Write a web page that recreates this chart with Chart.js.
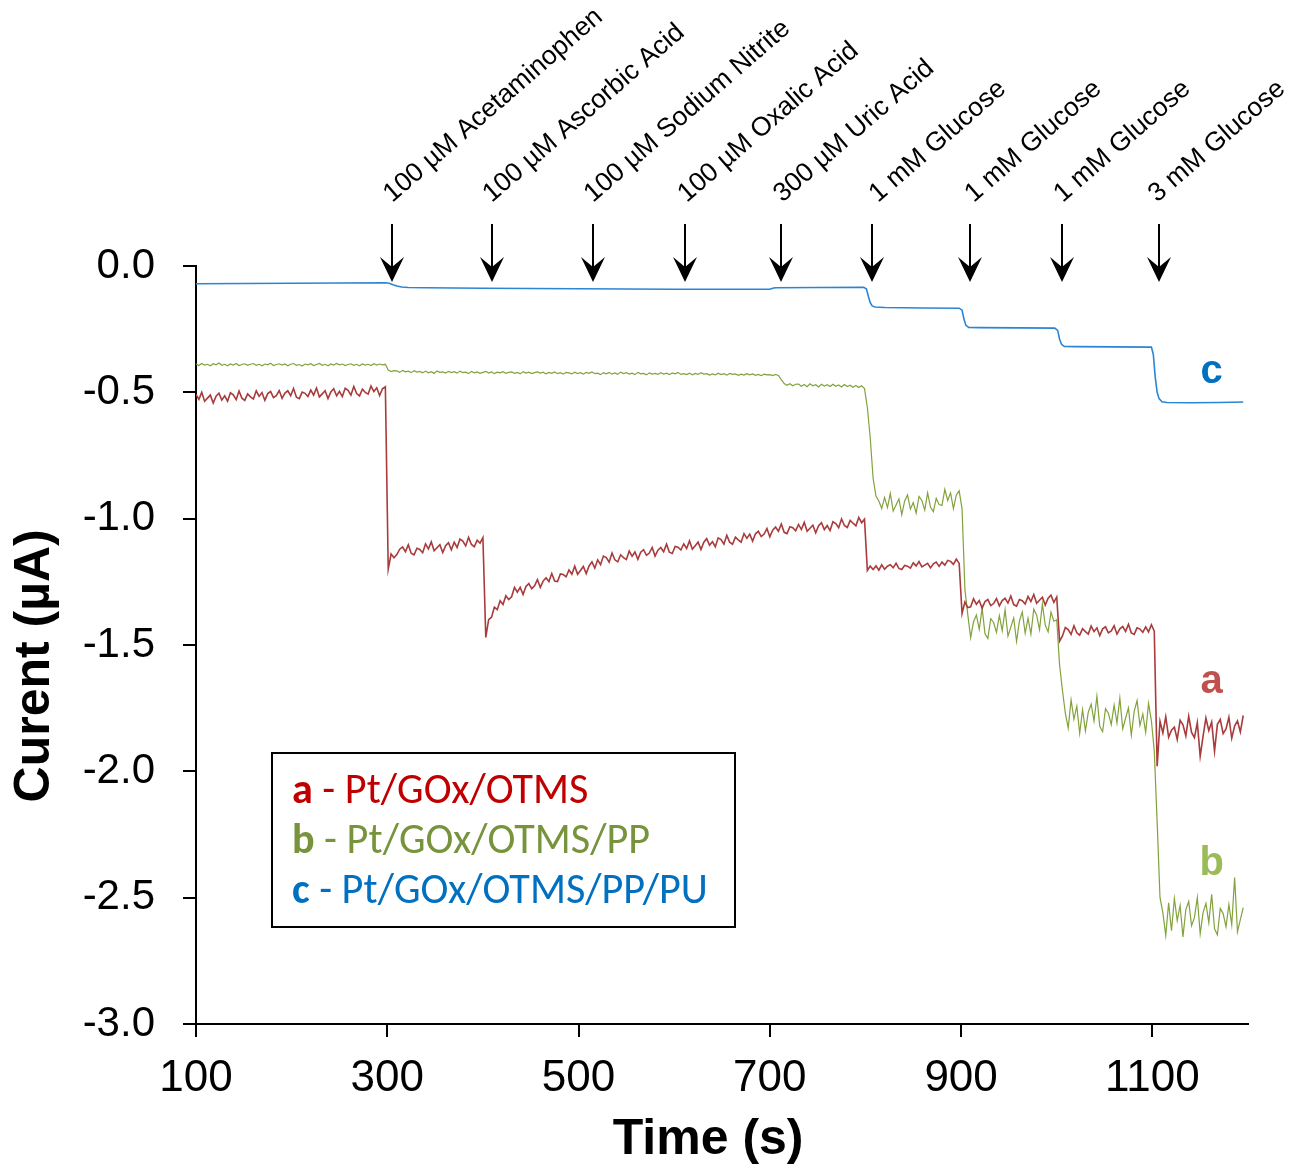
<!DOCTYPE html>
<html>
<head>
<meta charset="utf-8">
<script src="https://cdn.jsdelivr.net/npm/chart.js@4.4.1/dist/chart.umd.min.js"></script>
<style>
html,body{margin:0;padding:0;background:#ffffff;}
#wrap{width:1291px;height:1170px;position:relative;}
canvas{display:block;}
</style>
</head>
<body>
<div id="wrap"><canvas id="chart" width="1291" height="1170"></canvas></div>
<script>
// ---------------- DATA ----------------
const xTickValues = [100, 300, 500, 700, 900, 1100];
const yTickValues = [0, -0.5, -1.0, -1.5, -2.0, -2.5, -3.0];

const seriesTags = ['a', 'b', 'c'];
const seriesNames = ['Pt/GOx/OTMS', 'Pt/GOx/OTMS/PP', 'Pt/GOx/OTMS/PP/PU'];

const eventLabels = ['100 \u00b5M Acetaminophen', '100 \u00b5M Ascorbic Acid', '100 \u00b5M Sodium Nitrite',
  '100 \u00b5M Oxalic Acid', '300 \u00b5M Uric Acid', '1 mM Glucose', '1 mM Glucose', '1 mM Glucose', '3 mM Glucose'];
const arrowTimes = [305, 409, 515, 611, 712, 807, 909, 1006, 1107];
const labelTimes = [300, 404, 510, 608, 708, 808, 908, 1001, 1100];

// traces a and b: sampled every 3 s starting at 100 s (current in µA)
const sampleStart = 100, sampleStep = 3;
const currentA = [
  -0.508,-0.528,-0.500,-0.535,-0.523,-0.511,-0.542,-0.515,-0.503,-0.531,
  -0.514,-0.535,-0.502,-0.510,-0.529,-0.495,-0.523,-0.532,-0.506,-0.518,
  -0.526,-0.494,-0.516,-0.501,-0.532,-0.505,-0.497,-0.521,-0.513,-0.493,
  -0.524,-0.503,-0.494,-0.513,-0.485,-0.519,-0.525,-0.499,-0.504,-0.517,
  -0.491,-0.511,-0.483,-0.518,-0.506,-0.494,-0.525,-0.498,-0.486,-0.514,
  -0.496,-0.517,-0.484,-0.492,-0.511,-0.477,-0.505,-0.514,-0.488,-0.500,
  -0.507,-0.475,-0.497,-0.482,-0.513,-0.486,-0.478,-1.200,-1.140,-1.155,
  -1.142,-1.121,-1.112,-1.131,-1.103,-1.137,-1.143,-1.117,-1.122,-1.135,
  -1.100,-1.120,-1.092,-1.127,-1.115,-1.103,-1.134,-1.107,-1.095,-1.123,
  -1.093,-1.114,-1.081,-1.089,-1.108,-1.074,-1.102,-1.111,-1.085,-1.097,
  -1.075,-1.470,-1.400,-1.390,-1.350,-1.360,-1.325,-1.340,-1.305,-1.320,
  -1.309,-1.272,-1.291,-1.272,-1.300,-1.268,-1.257,-1.277,-1.266,-1.241,
  -1.272,-1.247,-1.234,-1.249,-1.217,-1.247,-1.249,-1.219,-1.221,-1.230,
  -1.203,-1.220,-1.188,-1.220,-1.205,-1.189,-1.217,-1.187,-1.171,-1.196,
  -1.163,-1.182,-1.148,-1.154,-1.172,-1.136,-1.163,-1.171,-1.143,-1.154,
  -1.162,-1.128,-1.149,-1.132,-1.161,-1.133,-1.123,-1.145,-1.136,-1.114,
  -1.148,-1.125,-1.114,-1.131,-1.101,-1.133,-1.138,-1.110,-1.113,-1.124,
  -1.100,-1.118,-1.088,-1.121,-1.107,-1.093,-1.122,-1.093,-1.079,-1.105,
  -1.091,-1.111,-1.076,-1.083,-1.101,-1.066,-1.093,-1.101,-1.073,-1.084,
  -1.093,-1.059,-1.078,-1.061,-1.089,-1.060,-1.050,-1.071,-1.061,-1.039,
  -1.072,-1.046,-1.033,-1.050,-1.021,-1.054,-1.059,-1.032,-1.036,-1.048,
  -1.023,-1.043,-1.015,-1.050,-1.038,-1.026,-1.056,-1.028,-1.016,-1.043,
  -1.027,-1.047,-1.012,-1.019,-1.036,-1.001,-1.027,-1.035,-1.007,-1.018,
  -1.028,-0.995,-1.016,-1.002,-1.205,-1.188,-1.201,-1.187,-1.204,-1.183,
  -1.200,-1.188,-1.182,-1.194,-1.177,-1.197,-1.201,-1.185,-1.188,-1.196,
  -1.175,-1.187,-1.170,-1.191,-1.184,-1.177,-1.195,-1.179,-1.172,-1.189,
  -1.172,-1.184,-1.165,-1.169,-1.181,-1.160,-1.177,-1.375,-1.330,-1.352,
  -1.349,-1.317,-1.339,-1.324,-1.355,-1.328,-1.320,-1.344,-1.336,-1.316,
  -1.345,-1.324,-1.315,-1.334,-1.306,-1.340,-1.346,-1.320,-1.325,-1.338,
  -1.308,-1.328,-1.300,-1.335,-1.323,-1.311,-1.342,-1.315,-1.303,-1.331,
  -1.310,-1.485,-1.464,-1.431,-1.439,-1.458,-1.424,-1.452,-1.461,-1.435,
  -1.447,-1.457,-1.425,-1.447,-1.432,-1.463,-1.436,-1.428,-1.452,-1.444,
  -1.424,-1.457,-1.436,-1.427,-1.446,-1.418,-1.452,-1.458,-1.432,-1.437,
  -1.450,-1.428,-1.448,-1.420,-1.445,-1.980,-1.802,-1.848,-1.784,-1.865,
  -1.837,-1.825,-1.874,-1.798,-1.816,-1.860,-1.782,-1.846,-1.867,-1.807,
  -1.940,-1.862,-1.789,-1.839,-1.805,-1.920,-1.814,-1.795,-1.851,-1.832,
  -1.786,-1.869,-1.821,-1.800,-1.844,-1.779
];
const currentB = [
  -0.388,-0.394,-0.386,-0.392,-0.389,-0.395,-0.387,-0.391,-0.384,-0.393,
  -0.389,-0.395,-0.388,-0.392,-0.386,-0.394,-0.390,-0.387,-0.393,-0.389,
  -0.386,-0.393,-0.389,-0.395,-0.388,-0.391,-0.385,-0.394,-0.390,-0.387,
  -0.392,-0.388,-0.395,-0.389,-0.386,-0.393,-0.390,-0.396,-0.388,-0.391,
  -0.387,-0.394,-0.390,-0.386,-0.393,-0.389,-0.395,-0.388,-0.392,-0.386,
  -0.391,-0.388,-0.394,-0.390,-0.387,-0.393,-0.389,-0.395,-0.388,-0.392,
  -0.389,-0.394,-0.387,-0.392,-0.388,-0.391,-0.389,-0.412,-0.418,-0.414,
  -0.415,-0.421,-0.413,-0.419,-0.416,-0.422,-0.414,-0.420,-0.417,-0.423,
  -0.416,-0.423,-0.418,-0.425,-0.415,-0.421,-0.419,-0.424,-0.417,-0.422,
  -0.418,-0.424,-0.416,-0.422,-0.420,-0.426,-0.417,-0.423,-0.419,-0.425,
  -0.421,-0.417,-0.424,-0.419,-0.426,-0.420,-0.423,-0.418,-0.425,-0.421,
  -0.419,-0.425,-0.421,-0.427,-0.418,-0.424,-0.420,-0.426,-0.422,-0.419,
  -0.424,-0.420,-0.427,-0.421,-0.425,-0.419,-0.426,-0.422,-0.428,-0.421,
  -0.423,-0.427,-0.420,-0.426,-0.422,-0.428,-0.421,-0.425,-0.419,-0.426,
  -0.424,-0.430,-0.422,-0.427,-0.421,-0.428,-0.423,-0.429,-0.420,-0.426,
  -0.422,-0.428,-0.424,-0.430,-0.421,-0.427,-0.425,-0.431,-0.423,-0.428,
  -0.425,-0.429,-0.422,-0.428,-0.424,-0.430,-0.423,-0.427,-0.421,-0.429,
  -0.426,-0.430,-0.424,-0.431,-0.425,-0.429,-0.422,-0.428,-0.426,-0.432,
  -0.427,-0.431,-0.424,-0.430,-0.426,-0.432,-0.425,-0.429,-0.427,-0.433,
  -0.428,-0.432,-0.426,-0.431,-0.427,-0.433,-0.429,-0.434,-0.428,-0.431,
  -0.430,-0.434,-0.429,-0.433,-0.450,-0.465,-0.472,-0.466,-0.474,-0.468,
  -0.467,-0.476,-0.469,-0.478,-0.466,-0.474,-0.470,-0.479,-0.468,-0.475,
  -0.470,-0.477,-0.468,-0.476,-0.471,-0.479,-0.469,-0.477,-0.472,-0.480,
  -0.473,-0.481,-0.474,-0.485,-0.560,-0.680,-0.840,-0.910,-0.930,-0.960,
  -0.916,-0.956,-0.900,-0.970,-0.946,-0.922,-0.984,-0.930,-0.906,-0.962,
  -0.936,-0.978,-0.912,-0.928,-0.966,-0.898,-0.954,-0.972,-0.920,-0.944,
  -0.948,-0.884,-0.928,-0.898,-0.960,-0.906,-0.890,-0.960,-1.280,-1.380,
  -1.471,-1.408,-1.381,-1.438,-1.354,-1.456,-1.474,-1.396,-1.411,-1.450,
  -1.384,-1.444,-1.360,-1.465,-1.429,-1.393,-1.486,-1.405,-1.369,-1.453,
  -1.394,-1.457,-1.358,-1.382,-1.439,-1.337,-1.421,-1.448,-1.370,-1.406,
  -1.400,-1.580,-1.680,-1.770,-1.829,-1.717,-1.794,-1.742,-1.850,-1.756,
  -1.840,-1.766,-1.734,-1.801,-1.703,-1.822,-1.843,-1.752,-1.770,-1.815,
  -1.738,-1.808,-1.710,-1.832,-1.790,-1.749,-1.857,-1.763,-1.720,-1.818,
  -1.773,-1.846,-1.731,-1.800,-1.920,-2.200,-2.500,-2.560,-2.650,-2.520,
  -2.631,-2.503,-2.591,-2.531,-2.655,-2.547,-2.515,-2.611,-2.579,-2.499,
  -2.643,-2.559,-2.523,-2.599,-2.487,-2.623,-2.647,-2.543,-2.563,-2.615,
  -2.527,-2.607,-2.420,-2.635,-2.587,-2.539
];

// trace c: smooth, explicit time / current pairs
const timeC = [100,150,200,250,298,302,306,310,315,322,340,400,450,500,550,600,650,700,703,706,750,798,
  801,803,805,807,810,820,860,898,901,903,905,908,920,960,998,1001,1003,1005,1008,1020,1060,1099,
  1101,1103,1105,1107,1110,1115,1140,1170,1195];
const currentC = [-0.070,-0.069,-0.068,-0.067,-0.066,-0.068,-0.074,-0.079,-0.083,-0.085,-0.086,-0.088,-0.089,-0.090,-0.091,-0.092,-0.092,-0.092,-0.088,-0.086,-0.085,-0.084,
  -0.090,-0.120,-0.145,-0.158,-0.162,-0.164,-0.166,-0.167,-0.175,-0.210,-0.235,-0.243,-0.244,-0.245,-0.246,-0.255,-0.290,-0.310,-0.318,-0.319,-0.320,-0.321,
  -0.350,-0.440,-0.500,-0.525,-0.537,-0.540,-0.541,-0.540,-0.538];

const tagTime = 1162;
const tagValues = [-1.69, -2.41, -0.463];   // a, b, c label baselines

// ---------------- STYLE ----------------
const traceColors = ['#A83B3B', '#82A23D', '#2B85D3'];
const traceWidths = [1.6, 1.2, 1.6];
const legendColors = ['#C00000', '#77933C', '#0070C0'];
const tagColors = ['#C0504D', '#9BBB59', '#0070C0'];
const FONT = '"Liberation Sans", Arial, Helvetica, sans-serif';

function sampled(values) {
  return values.map((v, i) => ({x: sampleStart + sampleStep * i, y: v}));
}

const annotPlugin = {
  id: 'annot',
  afterDraw(chart) {
    const {ctx, chartArea, scales: {x, y}} = chart;
    ctx.save();
    // arrows
    ctx.strokeStyle = '#000'; ctx.fillStyle = '#000'; ctx.lineWidth = 2;
    arrowTimes.forEach(t => {
      const px = Math.round(x.getPixelForValue(t));
      const tip = chartArea.top + 16;
      ctx.beginPath(); ctx.moveTo(px, chartArea.top - 42); ctx.lineTo(px, tip - 12); ctx.stroke();
      ctx.beginPath();
      ctx.moveTo(px, tip); ctx.lineTo(px - 12, tip - 25); ctx.lineTo(px, tip - 15); ctx.lineTo(px + 12, tip - 25);
      ctx.closePath(); ctx.fill();
    });
    // rotated event labels
    ctx.fillStyle = '#000';
    ctx.font = '26.5px ' + FONT; ctx.textAlign = 'left'; ctx.textBaseline = 'alphabetic';
    eventLabels.forEach((s, i) => {
      const px = x.getPixelForValue(labelTimes[i]) + 5;
      ctx.save(); ctx.translate(px, chartArea.top - 63); ctx.rotate(-41 * Math.PI / 180);
      ctx.fillText(s, 0, 0); ctx.restore();
    });
    // curve tags a, b, c
    ctx.font = 'bold 40px ' + FONT; ctx.textAlign = 'center'; ctx.textBaseline = 'alphabetic';
    seriesTags.forEach((tg, i) => {
      ctx.fillStyle = tagColors[i];
      ctx.fillText(tg, x.getPixelForValue(tagTime), y.getPixelForValue(tagValues[i]));
    });
    // legend box
    const bx = chartArea.left + 76, by = chartArea.top + 487, bw = 463, bh = 174;
    ctx.fillStyle = '#fff'; ctx.fillRect(bx, by, bw, bh);
    ctx.strokeStyle = '#000'; ctx.lineWidth = 2; ctx.strokeRect(bx, by, bw, bh);
    const LF = '"Carlito", "Lato", "Open Sans", sans-serif';
    const measure = (size, i) => {
      ctx.font = 'bold ' + size + 'px ' + LF; let w = ctx.measureText(seriesTags[i]).width;
      ctx.font = size + 'px ' + LF; w += ctx.measureText(' - ' + seriesNames[i]).width; return w;
    };
    const fs = 40 * 416 / measure(40, 2);
    ctx.textAlign = 'left'; ctx.textBaseline = 'alphabetic';
    seriesTags.forEach((tg, i) => {
      const ty = by + 50 + 50 * i, tx = bx + 20;
      ctx.fillStyle = legendColors[i];
      ctx.font = 'bold ' + fs + 'px ' + LF; ctx.fillText(tg, tx, ty);
      const w = ctx.measureText(tg).width;
      ctx.font = fs + 'px ' + LF; ctx.fillText(' - ' + seriesNames[i], tx + w, ty);
    });
    ctx.restore();
  }
};

new Chart(document.getElementById('chart'), {
  type: 'line',
  data: {
    datasets: [
      {data: sampled(currentA), borderColor: traceColors[0], borderWidth: traceWidths[0]},
      {data: sampled(currentB), borderColor: traceColors[1], borderWidth: traceWidths[1]},
      {data: timeC.map((t, i) => ({x: t, y: currentC[i]})), borderColor: traceColors[2], borderWidth: traceWidths[2]}
    ]
  },
  options: {
    responsive: false, animation: false, devicePixelRatio: 1,
    layout: {padding: {left: 0, right: 43, top: 266, bottom: 0}},
    plugins: {legend: {display: false}, tooltip: {enabled: false}},
    elements: {point: {radius: 0}, line: {tension: 0, fill: false}},
    scales: {
      x: {
        type: 'linear', min: 100, max: 1200,
        afterBuildTicks: s => { s.ticks = xTickValues.map(v => ({value: v})); },
        afterFit: s => { s.height = 146; },
        grid: {display: true, drawOnChartArea: false, drawTicks: true, tickLength: 13, color: '#000', lineWidth: 2},
        border: {display: true, color: '#000', width: 2},
        ticks: {color: '#000', font: {family: FONT, size: 44}, padding: 15, maxRotation: 0, autoSkip: false,
          callback: v => String(v)},
        title: {display: true, text: 'Time (s)  ', color: '#000', font: {family: FONT, size: 50, weight: 'bold'},
          padding: {top: 0, bottom: 0}}
      },
      y: {
        type: 'linear', min: -3, max: 0,
        afterBuildTicks: s => { s.ticks = yTickValues.map(v => ({value: v})); },
        afterFit: s => { s.width = 196; },
        grid: {display: true, drawOnChartArea: false, drawTicks: true, tickLength: 13, color: '#000', lineWidth: 2},
        border: {display: true, color: '#000', width: 2},
        ticks: {color: '#000', font: {family: FONT, size: 42}, padding: 28, autoSkip: false,
          callback: v => Number(v).toFixed(1)},
        title: {display: true, text: 'Curent (\u00b5A)   ', color: '#000', font: {family: FONT, size: 50, weight: 'bold'},
          padding: {top: 5, bottom: 0}}
      }
    }
  },
  plugins: [annotPlugin]
});
</script>
</body>
</html>
